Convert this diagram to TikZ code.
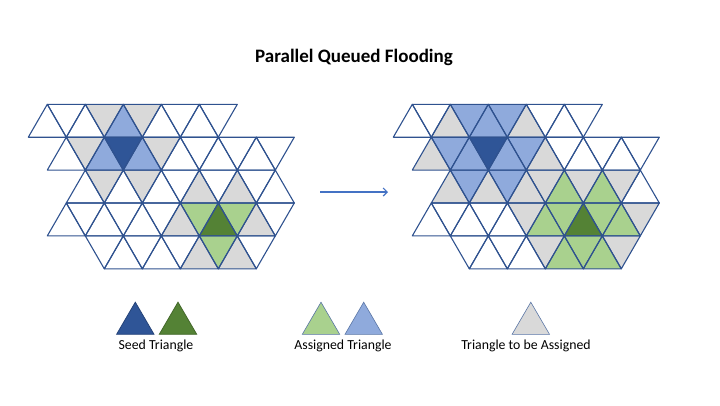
\documentclass[tikz,border=0pt]{standalone}
\usepackage{fontspec}
\setmainfont{Carlito}
\usetikzlibrary{arrows.meta}

\definecolor{gridline}{RGB}{47,82,143}
\definecolor{seedblue}{RGB}{47,85,151}
\definecolor{lightblue}{RGB}{143,170,220}
\definecolor{seedgreen}{RGB}{84,130,53}
\definecolor{lightgreen}{RGB}{169,209,142}
\definecolor{pending}{RGB}{217,217,217}
\definecolor{arrowblue}{RGB}{68,114,196}

% one triangle of the lattice: style, row, position
\newcommand{\tri}[3]{%
  \ifodd\numexpr#2+#3\relax
    \path[#1] (#3,#2) -- (#3-1,#2+1) -- (#3+1,#2+1) -- cycle;
  \else
    \path[#1] (#3-1,#2) -- (#3+1,#2) -- (#3,#2+1) -- cycle;
  \fi}
% all outlines of one grid
\newcommand{\gridlines}{%
  \foreach \r/\a/\b in {0/1/10, 1/2/13, 2/3/13, 3/2/13, 4/4/12}
    {\foreach \u in {\a,...,\b} {\tri{edge}{\r}{\u}}}}
% legend triangle: centre, style
\newcommand{\legtri}[2]{\path[#2] (#1-18.7,334.3) -- (#1+18.7,334.3) -- (#1,302.2) -- cycle;}

\begin{document}
\begin{tikzpicture}[x=1pt,y=-1pt]
  \tikzstyle{edge}=[draw=gridline, line width=1.1pt, line join=round]
  \tikzstyle{label}=[font=\fontsize{13.8}{16}\selectfont, text=black, inner sep=0pt]
  \tikzstyle{flow}=[arrowblue, line width=1.2pt, -{Straight Barb[length=4pt,width=8pt]}]

  \useasboundingbox (0,0) rectangle (720,405);

  \node[font=\fontsize{19}{23}\selectfont\bfseries] (title) at (354,57) {Parallel Queued Flooding};

  % first step
  \begin{scope}[shift={(28.3,104.3)}, x=19pt, y=-32.9pt]
    \foreach \r/\u in {0/4, 0/6, 1/3, 1/7, 2/4, 2/6, 2/9, 2/11, 3/8, 3/12, 4/9, 4/11}
      {\tri{fill=pending}{\r}{\u}}
    \foreach \r/\u in {0/5, 1/4, 1/6} {\tri{fill=lightblue}{\r}{\u}}
    \foreach \r/\u in {3/9, 3/11, 4/10} {\tri{fill=lightgreen}{\r}{\u}}
    \tri{fill=seedblue}{1}{5}
    \tri{fill=seedgreen}{3}{10}
    \gridlines
  \end{scope}

  % second step
  \begin{scope}[shift={(393.3,104.3)}, x=19pt, y=-32.9pt]
    \foreach \r/\u in {0/3, 0/7, 1/2, 1/8, 2/3, 2/5, 2/7, 2/8, 2/10, 2/12, 3/7, 3/13, 4/8, 4/12}
      {\tri{fill=pending}{\r}{\u}}
    \foreach \r/\u in {0/4, 0/5, 0/6, 1/3, 1/4, 1/6, 1/7, 2/4, 2/6} {\tri{fill=lightblue}{\r}{\u}}
    \foreach \r/\u in {2/9, 2/11, 3/8, 3/9, 3/11, 3/12, 4/9, 4/10, 4/11} {\tri{fill=lightgreen}{\r}{\u}}
    \tri{fill=seedblue}{1}{5}
    \tri{fill=seedgreen}{3}{10}
    \gridlines
  \end{scope}

  \coordinate (step1) at (320,192);
  \coordinate (step2) at (388,192);
  \draw[flow] (step1) -- (step2);

  % legend
  \legtri{135.3}{fill=seedblue, draw=seedblue!80!black, line width=0.8pt}
  \legtri{178}{fill=seedgreen, draw=seedgreen!80!black, line width=0.8pt}
  \legtri{321}{fill=lightgreen, draw=gridline!80, line width=0.6pt}
  \legtri{363.7}{fill=lightblue, draw=gridline!80, line width=0.6pt}
  \legtri{530.8}{fill=pending, draw=gridline!80, line width=0.6pt}

  \node[label] (seed) at (156,346) {Seed Triangle};
  \node[label] (assigned) at (343,346) {Assigned Triangle};
  \node[label] (pendinglabel) at (526,346) {Triangle to be Assigned};
\end{tikzpicture}
\end{document}
